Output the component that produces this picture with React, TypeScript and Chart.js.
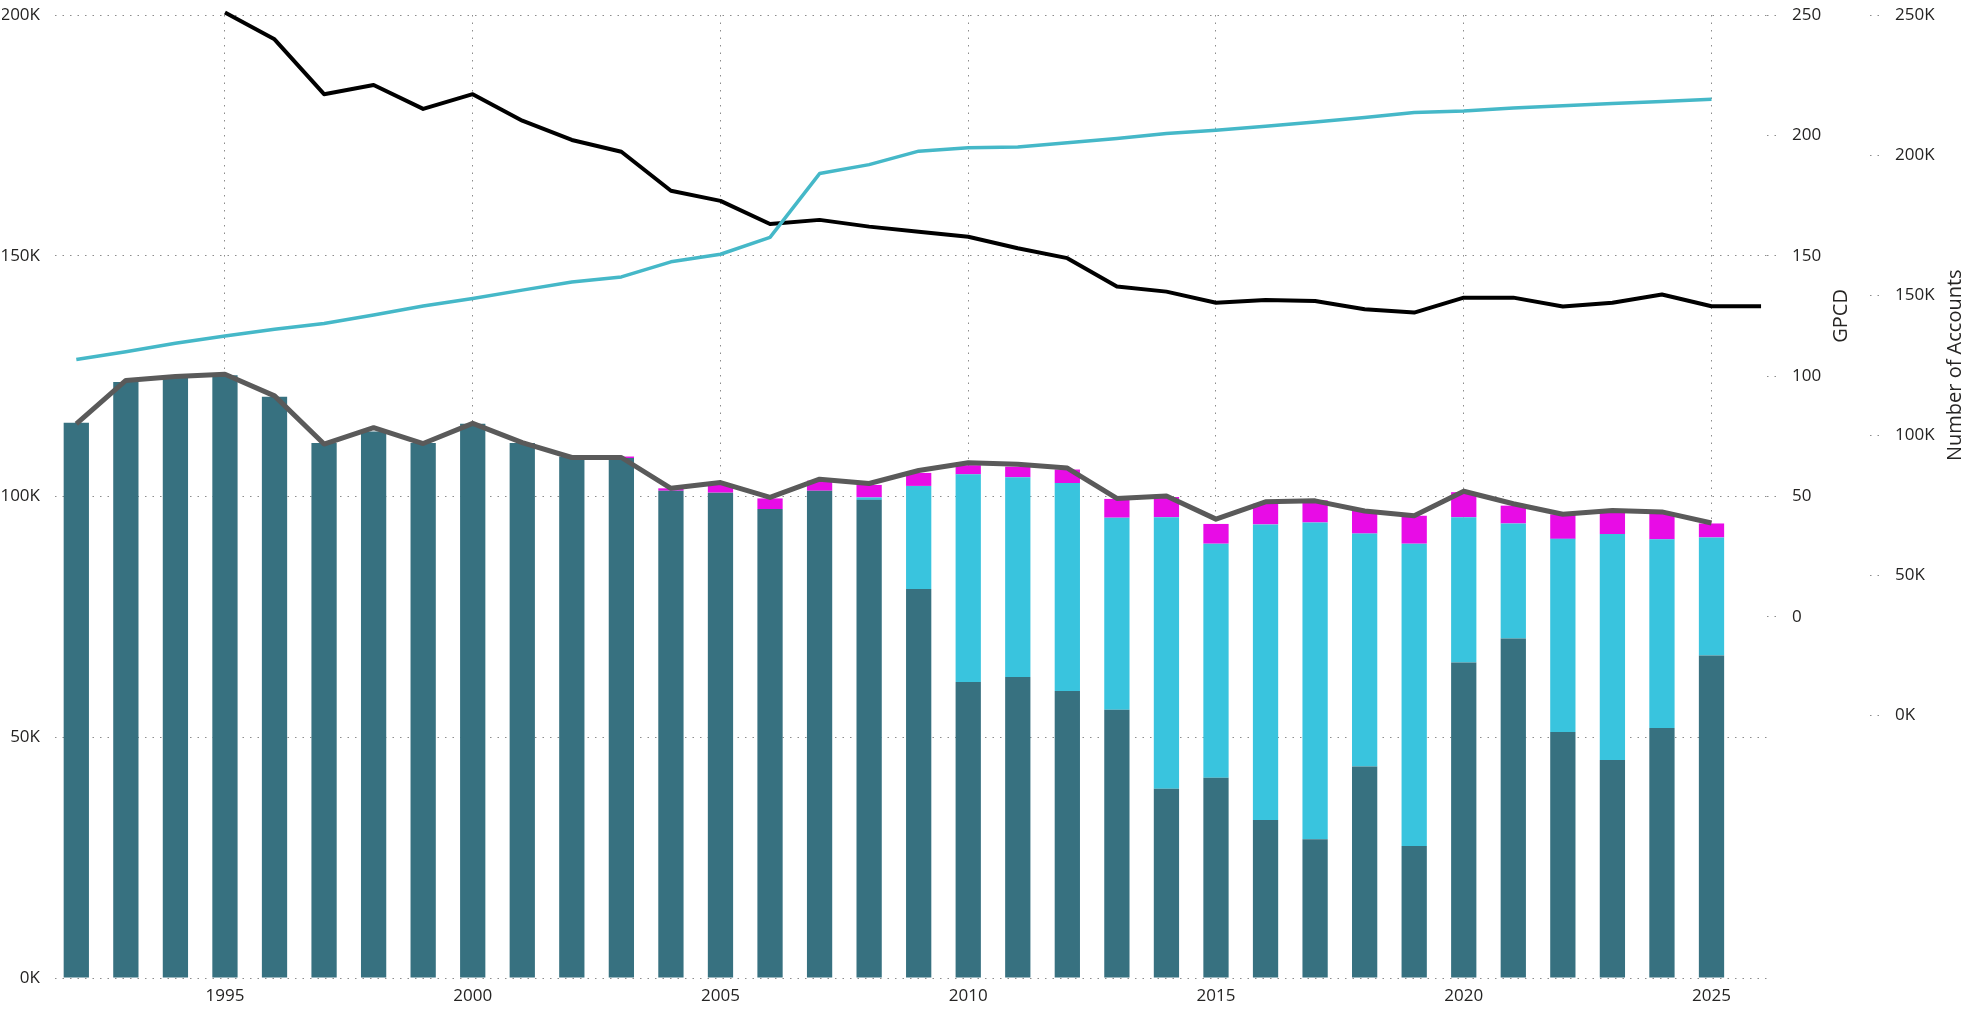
import React, { useEffect, useRef } from 'react';
import { Chart, registerables } from 'chart.js';
Chart.register(...registerables);

// ---------- DATA ----------
const years = [
  1992, 1993, 1994, 1995, 1996, 1997, 1998, 1999, 2000, 2001, 2002, 2003, 2004, 2005, 2006, 2007, 2008,
  2009, 2010, 2011, 2012, 2013, 2014, 2015, 2016, 2017, 2018, 2019, 2020, 2021, 2022, 2023, 2024, 2025, 2026,
];

// stacked bar segments (left axis)
const darkSeries = [
  115300, 123800, 124600, 125200, 120700, 111100, 113500, 111100, 115100, 111100, 108300, 108000, 101200,
  100800, 97400, 101200, 99300, 80800, 61500, 62500, 59600, 55700, 39300, 41600, 32800, 28800, 43900,
  27400, 65500, 70500, 51100, 45300, 51900, 67000, null,
];
const cyanSeries = [
  0, 0, 0, 0, 0, 0, 0, 0, 0, 0, 0, 0, 0, 0, 0, 0, 500, 21400, 43100, 41500, 43200, 39900, 56400, 48600,
  61400, 65800, 48400, 62800, 30200, 23900, 40100, 46900, 39200, 24500, null,
];
const magentaSeries = [
  0, 0, 0, 0, 0, 0, 0, 0, 0, 0, 0, 300, 500, 1600, 2200, 2100, 2600, 2700, 1900, 2200, 2800, 3900, 4200,
  4100, 4300, 4600, 4700, 5800, 5200, 3700, 5100, 4700, 5400, 2900, null,
];

// gray total line (left axis)
const totalLine = [
  115100, 124100, 124900, 125400, 120900, 110900, 114300, 111000, 115200, 111200, 108100, 108100, 101700,
  102900, 99800, 103600, 102700, 105400, 107000, 106700, 105900, 99600, 100100, 95300, 98900, 99100,
  97000, 96000, 101100, 98500, 96300, 97100, 96800, 94500, null,
];

// GPCD (black line, GPCD axis)
const gpcdLine = [
  null, null, null, 251, 239.9, 217.1, 220.9, 211.0, 217.1, 206.1, 198.1, 193.2, 177.0, 172.8, 163.2,
  164.9, 162.1, 160.0, 157.9, 153.1, 149.0, 137.2, 135.1, 130.5, 131.6, 131.2, 127.8, 126.4, 132.6, 132.6,
  128.9, 130.5, 133.9, 129.0, 129.0,
];

// Number of accounts (cyan line, accounts axis)
const accountsLine = [
  127000, 129800, 132800, 135400, 137800, 139900, 142900, 146100, 148800, 151800, 154700, 156500, 161900,
  164600, 170600, 193400, 196600, 201400, 202600, 202900, 204400, 205900, 207700, 208900, 210300, 211800,
  213400, 215200, 215700, 216800, 217600, 218400, 219100, 219900, null,
];

const xTickYears = [1995, 2000, 2005, 2010, 2015, 2020, 2025];
const leftTicks = [0, 50000, 100000, 150000, 200000];
const gpcdTicks = [0, 50, 100, 150, 200, 250];
const accountTicks = [0, 50000, 100000, 150000, 200000, 250000];

// ---------- STYLE ----------
const FONT = "'Open Sans', 'Noto Sans', sans-serif";
const TEXT = '#252423';
const GRID = '#8c8c8c';
const DOTS = [1.5, 6];
const TICK_FONT = { family: FONT, size: 17 };
const TITLE_SIZE = 20;
// axis box sizes (px)
const LEFT_AXIS_W = 53;
const GPCD_AXIS_W = 103;
const ACC_AXIS_W = 102;
const X_AXIS_H = 28;
// title centre offsets from the axis' left edge
const GPCD_TITLE_OFF = 74;
const ACC_TITLE_OFF = 85;

const pts = (arr: (number | null)[]) => years.map((yr, i) => ({ x: yr, y: arr[i] }));
const kFmt = (v: number) => `${Math.round(v / 1000)}K`;

const fixV = (w: number) => (s: any) => {
  s.width = w;
  s.paddingTop = 0;
  s.paddingBottom = 0;
};

const rotatedTitles = {
  id: 'rotatedTitles',
  afterDraw(chart: any) {
    const ctx = chart.ctx;
    const defs: [string, string, number, number][] = [
      ['gpcd', 'GPCD', gpcdTicks[gpcdTicks.length - 1], GPCD_TITLE_OFF],
      ['acc', 'Number of Accounts', accountTicks[accountTicks.length - 1], ACC_TITLE_OFF],
    ];
    for (const [id, text, topVal, off] of defs) {
      const s = chart.scales[id];
      if (!s) continue;
      const x = s.left + off;
      const y = (s.getPixelForValue(0) + s.getPixelForValue(topVal)) / 2;
      ctx.save();
      ctx.translate(x, y);
      ctx.rotate(-Math.PI / 2);
      ctx.textAlign = 'center';
      ctx.textBaseline = 'middle';
      ctx.font = `${TITLE_SIZE}px ${FONT}`;
      ctx.fillStyle = TEXT;
      ctx.fillText(text, 0, 0);
      ctx.restore();
    }
  },
};

export default function App() {
  const ref = useRef<HTMLCanvasElement>(null);

  useEffect(() => {
    if (!ref.current) return;
    const chart = new Chart(ref.current, {
      type: 'bar',
      data: {
        datasets: [
          {
            type: 'line',
            label: 'Number of Accounts',
            data: pts(accountsLine),
            yAxisID: 'acc',
            borderColor: '#45b8c8',
            borderWidth: 3.5,
            pointRadius: 0,
            borderJoinStyle: 'round',
            tension: 0,
            clip: false,
            order: 0,
          } as any,
          {
            type: 'line',
            label: 'GPCD',
            data: pts(gpcdLine),
            yAxisID: 'gpcd',
            borderColor: '#000000',
            borderWidth: 4,
            pointRadius: 0,
            borderJoinStyle: 'round',
            tension: 0,
            clip: false,
            order: 0,
          } as any,
          {
            type: 'line',
            label: 'Total',
            data: pts(totalLine),
            yAxisID: 'y',
            stack: 'totalLine',
            borderColor: '#5a5a5a',
            borderWidth: 5,
            pointRadius: 0,
            borderJoinStyle: 'round',
            tension: 0,
            clip: false,
            order: 0,
          } as any,
          {
            type: 'bar',
            label: 'Series 1',
            data: pts(darkSeries),
            yAxisID: 'y',
            backgroundColor: '#377180',
            borderWidth: 0,
            order: 1,
          },
          {
            type: 'bar',
            label: 'Series 2',
            data: pts(cyanSeries),
            yAxisID: 'y',
            backgroundColor: '#39c4de',
            borderWidth: 0,
            order: 1,
          },
          {
            type: 'bar',
            label: 'Series 3',
            data: pts(magentaSeries),
            yAxisID: 'y',
            backgroundColor: '#e80ce6',
            borderWidth: 0,
            order: 1,
          },
        ],
      },
      options: {
        animation: false,
        responsive: true,
        maintainAspectRatio: false,
        layout: { padding: { left: 2, right: 0, top: 15, bottom: 3 } },
        datasets: { bar: { categoryPercentage: 1, barPercentage: 0.51, grouped: false } },
        plugins: { legend: { display: false }, tooltip: { enabled: false } },
        scales: {
          x: {
            type: 'linear',
            min: 1991.57,
            max: 2026.12,
            offset: false,
            stacked: true,
            afterBuildTicks: (s: any) => {
              s.ticks = xTickYears.map((v) => ({ value: v }));
            },
            afterFit: (s: any) => {
              s.height = X_AXIS_H;
              s.paddingLeft = 0;
              s.paddingRight = 0;
            },
            ticks: {
              autoSkip: false,
              maxRotation: 0,
              padding: 8,
              color: TEXT,
              font: TICK_FONT,
              callback: (v: any) => String(v),
            },
            grid: { offset: false, color: GRID, lineWidth: 1, drawTicks: false, borderDash: DOTS },
            border: { display: false, dash: DOTS },
          } as any,
          y: {
            type: 'linear',
            position: 'left',
            stacked: true,
            min: 0,
            max: 200000,
            afterBuildTicks: (s: any) => {
              s.ticks = leftTicks.map((v) => ({ value: v }));
            },
            afterFit: fixV(LEFT_AXIS_W),
            ticks: { padding: 15, color: TEXT, font: TICK_FONT, callback: (v: any) => kFmt(v) },
            grid: { color: GRID, lineWidth: 1, drawTicks: false, borderDash: DOTS },
            border: { display: false, dash: DOTS },
          } as any,
          gpcd: {
            type: 'linear',
            position: 'right',
            weight: 1,
            min: -150,
            max: 250,
            afterBuildTicks: (s: any) => {
              s.ticks = gpcdTicks.map((v) => ({ value: v }));
            },
            afterFit: fixV(GPCD_AXIS_W),
            ticks: { padding: 15, color: TEXT, font: TICK_FONT, callback: (v: any) => String(v) },
            grid: {
              drawOnChartArea: false,
              drawTicks: true,
              tickLength: 10,
              tickColor: GRID,
              tickWidth: 1,
              tickBorderDash: DOTS,
            },
            border: { display: false },
          } as any,
          acc: {
            type: 'linear',
            position: 'right',
            weight: 2,
            min: -93750,
            max: 250000,
            afterBuildTicks: (s: any) => {
              s.ticks = accountTicks.map((v) => ({ value: v }));
            },
            afterFit: fixV(ACC_AXIS_W),
            ticks: { padding: 15, color: TEXT, font: TICK_FONT, callback: (v: any) => kFmt(v) },
            grid: {
              drawOnChartArea: false,
              drawTicks: true,
              tickLength: 10,
              tickColor: GRID,
              tickWidth: 1,
              tickBorderDash: DOTS,
            },
            border: { display: false },
          } as any,
        },
      },
      plugins: [rotatedTitles],
    } as any);
    return () => chart.destroy();
  }, []);

  return (
    <div style={{ position: 'absolute', left: 0, top: 0, width: 1972, height: 1009, background: '#fff' }}>
      <canvas ref={ref} />
    </div>
  );
}
